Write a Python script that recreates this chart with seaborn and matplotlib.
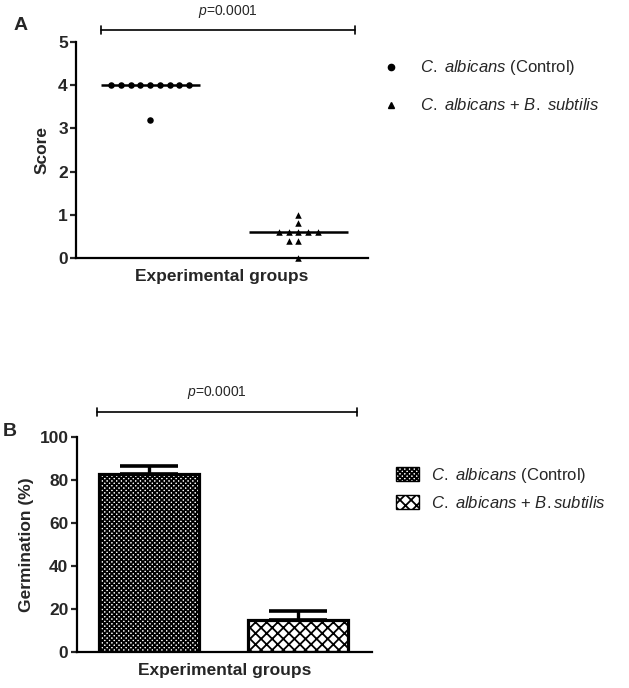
import numpy as np
import pandas as pd
import matplotlib
matplotlib.use("Agg")
import matplotlib.pyplot as plt
import matplotlib.patches as mpatches
from matplotlib.lines import Line2D
import seaborn as sns

# Data
groups = ["C. albicans (Control)", "C. albicans + B. subtilis"]
score_control = [4.0, 4.0, 4.0, 4.0, 4.0, 4.0, 4.0, 4.0, 4.0, 3.2]
score_bsub = [0.6, 0.6, 0.6, 0.6, 0.6, 0.4, 0.4, 0.8, 1.0, 0.0]
germ_mean = [83.0, 14.8]
germ_sem = [3.5, 4.4]
p_label = "$p$=0.0001"

sns.set_style("white")
plt.rcParams["font.family"] = ["Liberation Sans", "DejaVu Sans"]
plt.rcParams["mathtext.fontset"] = "custom"
plt.rcParams["mathtext.rm"] = "Liberation Sans"
plt.rcParams["mathtext.it"] = "Liberation Sans:italic"
plt.rcParams["hatch.linewidth"] = 1.3

df = pd.DataFrame({
    "group": [groups[0]] * len(score_control) + [groups[1]] * len(score_bsub),
    "score": score_control + score_bsub,
})
df_bar = pd.DataFrame({"group": groups, "germ": germ_mean})

fig = plt.figure(figsize=(6.29, 6.88), dpi=100)
axA = fig.add_axes([0.121, 0.625, 0.464, 0.314])
axB = fig.add_axes([0.122, 0.0523, 0.469, 0.3125])

# ---- panel A: scatter with medians
sns.swarmplot(data=df[df.group == groups[0]], x="group", y="score", order=groups,
              marker="o", color="black", size=6.6, ax=axA)
sns.swarmplot(data=df[df.group == groups[1]], x="group", y="score", order=groups,
              marker="^", color="black", size=6.6, ax=axA)
# lay out the swarm with wide spacing, then freeze it and shrink the markers
fig.canvas.draw()
for c in list(axA.collections):
    if "draw" in c.__dict__:
        del c.draw
    c.set_sizes([22])
    c.set_clip_on(False)
sns.boxplot(data=df, x="group", y="score", order=groups, width=0.67,
            showbox=False, showcaps=False, showfliers=False,
            whiskerprops={"visible": False},
            medianprops={"color": "black", "linewidth": 1.8}, ax=axA)

axA.set_ylim(0, 5)
axA.set_xlim(-0.5, 1.47)
axA.set_xticks([])
axA.set_ylabel("Score", fontsize=12.5, fontweight="bold", labelpad=6)
axA.set_xlabel("Experimental groups", fontsize=12.5, fontweight="bold", labelpad=8)

labels = ["$C.$ $albicans$ (Control)", "$C.$ $albicans$ + $B.$ $subtilis$"]
legA = [Line2D([], [], marker="o", ls="none", color="black", markersize=4.5, label=labels[0]),
        Line2D([], [], marker="^", ls="none", color="black", markersize=4.5, label=labels[1])]
axA.legend(handles=legA, loc="upper left", bbox_to_anchor=(0.585, 0.937),
           bbox_transform=fig.transFigure, frameon=False, fontsize=12,
           handlelength=1.0, handletextpad=1.2, labelspacing=1.2)

# ---- panel B: bars
sns.barplot(data=df_bar, x="group", y="germ", order=groups, width=0.675,
            color="white", edgecolor="black", linewidth=2.3, errorbar=None, ax=axB)
hatches = ["xxxxxxx", "xxx"]
for bar, h in zip(axB.patches, hatches):
    bar.set_hatch(h)
axB.errorbar([0, 1], germ_mean, yerr=[[0, 0], germ_sem], fmt="none",
             ecolor="black", elinewidth=2.4, capsize=21, capthick=2.6, zorder=1)
axB.set_ylim(0, 100)
axB.set_xlim(-0.49, 1.5)
axB.set_xticks([])
axB.set_yticks([0, 20, 40, 60, 80, 100])
axB.set_ylabel("Germination (%)", fontsize=12.5, fontweight="bold")
axB.set_xlabel("Experimental groups", fontsize=12.5, fontweight="bold", labelpad=8)

labelsB = ["$C.$ $albicans$ (Control)", "$C.$ $albicans$ + $B.subtilis$"]
legB = [mpatches.Patch(facecolor="white", edgecolor="black", hatch=h, label=l)
        for h, l in zip(hatches, labelsB)]
axB.legend(handles=legB, loc="upper left", bbox_to_anchor=(0.605, 0.345),
           bbox_transform=fig.transFigure, frameon=False, fontsize=12,
           handlelength=1.4, handleheight=0.9, handletextpad=0.7, labelspacing=0.6)

# shared axis styling
for ax in (axA, axB):
    sns.despine(ax=ax)
    for s in ("left", "bottom"):
        ax.spines[s].set_linewidth(1.6)
        ax.spines[s].set_color("black")
    ax.tick_params(axis="y", direction="out", length=4, width=1.6, left=True,
                   labelsize=12.5, pad=2)
    for t in ax.get_yticklabels():
        t.set_fontweight("bold")

# significance brackets
def bracket(ax, x0, x1, y, ty, tx):
    kw = dict(transform=ax.transAxes, clip_on=False, color="black", lw=1.2)
    ax.plot([x0, x1], [y, y], **kw)
    ax.plot([x0, x0], [y - 0.018, y + 0.018], **kw)
    ax.plot([x1, x1], [y - 0.018, y + 0.018], **kw)
    ax.text(tx, ty, p_label, transform=ax.transAxes, ha="center", va="center",
            fontsize=10)

bracket(axA, 0.086, 0.955, 1.056, 1.139, 0.52)
bracket(axB, 0.068, 0.949, 1.116, 1.205, 0.475)

fig.text(0.032, 1 - 25 / 688, "A", fontsize=14, fontweight="bold", va="center", ha="center")
fig.text(0.016, 1 - 432 / 688, "B", fontsize=14, fontweight="bold", va="center", ha="center")

fig.savefig("out.png", dpi=100)
